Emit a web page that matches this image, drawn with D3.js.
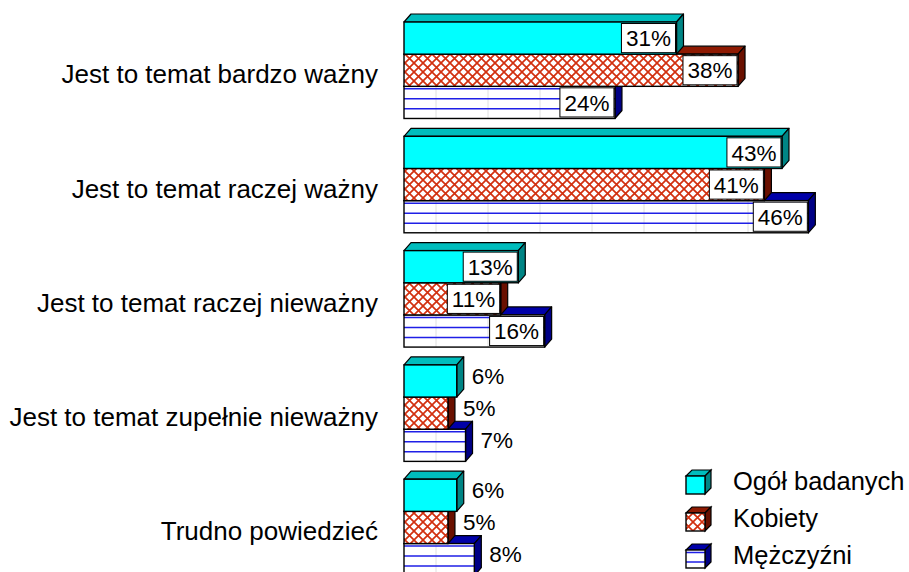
<!DOCTYPE html>
<html>
<head>
<meta charset="utf-8">
<script src="https://cdn.jsdelivr.net/npm/d3@7"></script>
<style>
  html, body { margin: 0; padding: 0; background: #ffffff; }
  svg { display: block; }
  text { font-family: Arial, "Liberation Sans", sans-serif; fill: #000; }
</style>
</head>
<body>
<svg id="chart" width="909" height="572"></svg>
<script>
// ---- data ----
const categories = [
  "Jest to temat bardzo ważny",
  "Jest to temat raczej ważny",
  "Jest to temat raczej nieważny",
  "Jest to temat zupełnie nieważny",
  "Trudno powiedzieć"
];
const seriesNames = ["Ogół badanych", "Kobiety", "Mężczyźni"];
const ogol      = [31, 43, 13, 6, 6];
const kobiety   = [38, 41, 11, 5, 5];
const mezczyzni = [24, 46, 16, 7, 8];
const seriesValues = [ogol, kobiety, mezczyzni];

// ---- styles ----
const styles = [
  { front: "#00ffff", top: "#00bdbd", side: "#008585", kind: "solid" },
  { front: "url(#xhatch)", top: "#8e1a02", side: "#6a1000", kind: "hatch" },
  { front: "#ffffff", top: "#0000a8", side: "#000085", kind: "stripes" }
];
const DX = 7, DY = 8;

const svg = d3.select("#chart");
const defs = svg.append("defs");
const P = 9;
const pat = defs.append("pattern").attr("id", "xhatch")
  .attr("width", P).attr("height", P).attr("patternUnits", "userSpaceOnUse");
pat.append("rect").attr("width", P).attr("height", P).attr("fill", "#fff");
pat.append("path").attr("d", `M0,0L${P},${P}M${P},0L0,${P}`)
  .attr("stroke", "#d2300f").attr("stroke-width", 1.7).attr("fill", "none");

// ---- scales ----
const x = d3.scaleLinear().domain([0, 50]).range([404, 843.5]);
const y = d3.scaleBand().domain(categories).range([13.1, 584.6])
  .paddingInner(0.156).paddingOuter(0.078);
const ys = d3.scaleBand().domain(seriesNames).range([0, y.bandwidth()]);
const bh = ys.bandwidth();

function drawBox(g, x0, x1, y0, h, st, withStripes) {
  g.append("path")
    .attr("d", `M${x0},${y0}L${x0 + DX},${y0 - DY}L${x1 + DX},${y0 - DY}L${x1},${y0}Z`)
    .attr("fill", st.top).attr("stroke", "#000").attr("stroke-width", 1.2)
    .attr("stroke-linejoin", "round");
  g.append("path")
    .attr("d", `M${x1},${y0}L${x1 + DX},${y0 - DY}L${x1 + DX},${y0 + h - DY}L${x1},${y0 + h}Z`)
    .attr("fill", st.side).attr("stroke", "#000").attr("stroke-width", 1.2)
    .attr("stroke-linejoin", "round");
  g.append("rect").attr("x", x0).attr("y", y0).attr("width", x1 - x0).attr("height", h)
    .attr("fill", st.front);
  if (withStripes) {
    for (let gx = x0 + 32; gx < x1; gx += 52) {
      g.append("line").attr("x1", gx).attr("x2", gx).attr("y1", y0).attr("y2", y0 + h)
        .attr("stroke", "#e0e0e0").attr("stroke-width", 1);
    }
    for (let k = 0; k < 3; k++) {
      const ly = y0 + 2.5 + k * 10;
      if (ly < y0 + h - 1.5)
        g.append("line").attr("x1", x0).attr("x2", x1).attr("y1", ly).attr("y2", ly)
          .attr("stroke", "#1f1fe6").attr("stroke-width", 1.5);
    }
  }
  g.append("rect").attr("x", x0).attr("y", y0).attr("width", x1 - x0).attr("height", h)
    .attr("fill", "none").attr("stroke", "#000").attr("stroke-width", 1.4);
}

// ---- bars ----
const barsG = svg.append("g");
categories.forEach((cat, i) => {
  for (let s = seriesNames.length - 1; s >= 0; s--) {
    const v = seriesValues[s][i];
    const y0 = y(cat) + ys(seriesNames[s]);
    drawBox(barsG, x(0), x(v), y0, bh, styles[s], styles[s].kind === "stripes");
  }
});

// ---- category labels ----
svg.append("g").selectAll("text").data(categories).join("text")
  .attr("x", 378)
  .attr("y", d => y(d) + y.bandwidth() / 2 + 13)
  .attr("text-anchor", "end")
  .style("font-size", "26px")
  .text(d => d);

// ---- value labels ----
const labG = svg.append("g");
categories.forEach((cat, i) => {
  seriesNames.forEach((sn, s) => {
    const v = seriesValues[s][i];
    const y0 = y(cat) + ys(sn);
    const cy = y0 + bh / 2;
    const label = v + "%";
    if (v >= 10) {
      const t = labG.append("text").attr("text-anchor", "middle")
        .style("font-size", "22.5px").text(label);
      const w = t.node().getComputedTextLength() + 9;
      const bx1 = x(v) - 1;
      labG.insert("rect", () => t.node())
        .attr("x", bx1 - w).attr("y", y0 + 1.5).attr("width", w).attr("height", bh - 3)
        .attr("fill", "#fff").attr("stroke", "#000").attr("stroke-width", 1);
      t.attr("x", bx1 - w / 2).attr("y", cy + 8.2);
    } else {
      labG.append("text").attr("x", x(v) + DX + 8).attr("y", cy - 5.5 + 8.2)
        .style("font-size", "22.5px").text(label);
    }
  });
});

// ---- legend ----
const legG = svg.append("g");
seriesNames.forEach((sn, s) => {
  const c = 481 + s * 37;
  const lx0 = 686, lw = 19, lh = 18, ly0 = c - 5;
  const st = styles[s];
  const d = 6;
  legG.append("path")
    .attr("d", `M${lx0},${ly0}L${lx0 + d},${ly0 - d}L${lx0 + lw + d},${ly0 - d}L${lx0 + lw},${ly0}Z`)
    .attr("fill", st.top).attr("stroke", "#000").attr("stroke-width", 1.2);
  legG.append("path")
    .attr("d", `M${lx0 + lw},${ly0}L${lx0 + lw + d},${ly0 - d}L${lx0 + lw + d},${ly0 + lh - d}L${lx0 + lw},${ly0 + lh}Z`)
    .attr("fill", st.side).attr("stroke", "#000").attr("stroke-width", 1.2);
  legG.append("rect").attr("x", lx0).attr("y", ly0).attr("width", lw).attr("height", lh)
    .attr("fill", st.front);
  if (st.kind === "stripes") {
    [2.5, 12].forEach(o => legG.append("line").attr("x1", lx0).attr("x2", lx0 + lw)
      .attr("y1", ly0 + o).attr("y2", ly0 + o).attr("stroke", "#1f1fe6").attr("stroke-width", 1.5));
  }
  legG.append("rect").attr("x", lx0).attr("y", ly0).attr("width", lw).attr("height", lh)
    .attr("fill", "none").attr("stroke", "#000").attr("stroke-width", 1.4);
  legG.append("text").attr("x", 733).attr("y", c + 9)
    .style("font-size", "25.5px").text(sn);
});
</script>
</body>
</html>
